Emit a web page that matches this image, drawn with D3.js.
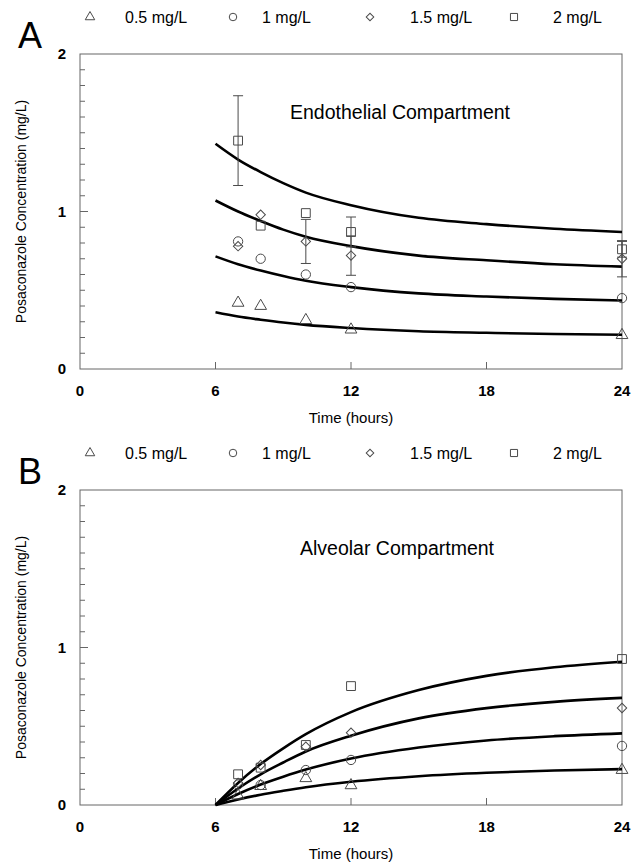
<!DOCTYPE html>
<html>
<head>
<meta charset="utf-8">
<script src="https://cdn.jsdelivr.net/npm/d3@7"></script>
<style>
  body { margin: 0; background: #fff; }
  svg { display: block; font-family: "Liberation Sans", Arial, sans-serif; }
</style>
</head>
<body>
<div id="chart"></div>
<script>
// doses shown in the legend
var doseLabels = ["0.5 mg/L", "1 mg/L", "1.5 mg/L", "2 mg/L"];
var symbolNames = ["triangle", "circle", "diamond", "square"];

// observed sampling times (hours)
var obsTimes = [7, 8, 10, 12, 24];

// A: endothelial compartment, observed
var endo05 = [0.42, 0.40, 0.31, 0.25, 0.215];
var endo1 = [0.81, 0.70, 0.60, 0.52, 0.45];
var endo15 = [0.78, 0.98, 0.81, 0.72, 0.70];
var endo2 = [1.45, 0.91, 0.99, 0.87, 0.76];
// error bars (sd), 0 = none
var endoErr15 = [0, 0, 0.14, 0.125, 0.115];
var endoErr2 = [0.285, 0, 0, 0.095, 0.05];

// model fit times
var fitTimes = [6, 7, 8, 9, 10, 12, 15, 18, 21, 24];
var endoFit05 = [0.36, 0.333, 0.313, 0.295, 0.28, 0.26, 0.24, 0.23, 0.222, 0.217];
var endoFit1 = [0.715, 0.665, 0.625, 0.59, 0.56, 0.52, 0.48, 0.46, 0.445, 0.435];
var endoFit15 = [1.07, 1.0, 0.94, 0.885, 0.84, 0.78, 0.72, 0.69, 0.665, 0.65];
var endoFit2 = [1.43, 1.33, 1.25, 1.18, 1.12, 1.04, 0.96, 0.92, 0.89, 0.87];

// B: alveolar compartment, observed
var alv05 = [0.06, 0.12, 0.17, 0.125, 0.222];
var alv1 = [0.13, 0.127, 0.222, 0.286, 0.375];
var alv15 = [0.14, 0.254, 0.37, 0.459, 0.616];
var alv2 = [0.195, 0.237, 0.381, 0.755, 0.927];

var alvFit05 = [0, 0.035, 0.065, 0.09, 0.113, 0.148, 0.183, 0.205, 0.219, 0.228];
var alvFit1 = [0, 0.07, 0.13, 0.18, 0.225, 0.295, 0.365, 0.41, 0.437, 0.455];
var alvFit15 = [0, 0.105, 0.195, 0.27, 0.34, 0.44, 0.55, 0.615, 0.655, 0.68];
var alvFit2 = [0, 0.14, 0.26, 0.36, 0.45, 0.59, 0.73, 0.82, 0.875, 0.91];

var xTicks = [0, 6, 12, 18, 24];
var yTicks = [0, 1, 2];

var W = 640, H = 863;
var svg = d3.select("#chart").append("svg")
  .attr("width", W)
  .attr("height", H);

var markColor = "#4a4a4a";
var axisColor = "#666";

var symbolTypes = {
  triangle: d3.symbolTriangle,
  circle: d3.symbolCircle,
  diamond: d3.symbolSquare,
  square: d3.symbolSquare
};

function drawSymbol(g, name, cx, cy, scale) {
  var sizes = { triangle: 60, circle: 68, diamond: 44, square: 78 };
  g.append("path")
    .attr("d", d3.symbol().type(symbolTypes[name]).size(sizes[name] * scale)())
    .attr("transform", "translate(" + cx + "," + cy + ")" + (name == "diamond" ? " rotate(45)" : ""))
    .attr("fill", "none")
    .attr("stroke", markColor)
    .attr("stroke-width", 1);
}

function drawPanel(p) {
  var left = 80, right = 622, top = p.top, bottom = p.top + 315;

  var x = d3.scaleLinear().domain([0, 24]).range([left, right]);
  var y = d3.scaleLinear().domain([0, 2]).range([bottom, top]);

  var g = svg.append("g");

  // panel letter
  g.append("text")
    .attr("x", 18).attr("y", top - 6)
    .attr("font-size", 36)
    .text(p.letter);

  // legend
  var legSym = [90, 233, 370, 514], legTxt = [125, 262, 410, 553];
  doseLabels.forEach(function(lab, i) {
    drawSymbol(g, symbolNames[i], legSym[i], top - 37, 0.65);
    g.append("text")
      .attr("x", legTxt[i]).attr("y", top - 37)
      .attr("dy", "0.35em")
      .attr("font-size", 16)
      .text(lab);
  });

  // frame
  g.append("rect")
    .attr("x", left).attr("y", top)
    .attr("width", right - left).attr("height", bottom - top)
    .attr("fill", "none")
    .attr("stroke", axisColor)
    .attr("stroke-width", 1);

  // y ticks (minor every 0.1, inward)
  var minor = d3.range(1, 20).map(function(v) { return v / 10; });
  g.selectAll(".ytick").data(minor).enter().append("line")
    .attr("x1", left).attr("x2", function(d) { return Math.abs(d - 1) < 1e-6 ? left + 8 : left + 5; })
    .attr("y1", function(d) { return y(d); }).attr("y2", function(d) { return y(d); })
    .attr("stroke", axisColor);

  g.selectAll(".ylab").data(yTicks).enter().append("text")
    .attr("x", 66).attr("y", function(d) { return y(d); })
    .attr("dy", "0.35em")
    .attr("text-anchor", "end")
    .attr("font-size", 15).attr("font-weight", "bold")
    .text(function(d) { return d; });

  // x ticks (inward)
  g.selectAll(".xtick").data([6, 12, 18]).enter().append("line")
    .attr("x1", function(d) { return x(d); }).attr("x2", function(d) { return x(d); })
    .attr("y1", bottom).attr("y2", bottom - 7)
    .attr("stroke", axisColor);

  g.selectAll(".xlab").data(xTicks).enter().append("text")
    .attr("x", function(d) { return x(d); }).attr("y", bottom + 22)
    .attr("dy", "0.35em")
    .attr("text-anchor", "middle")
    .attr("font-size", 15).attr("font-weight", "bold")
    .text(function(d) { return d; });

  g.append("text")
    .attr("x", (left + right) / 2).attr("y", bottom + 49)
    .attr("dy", "0.35em")
    .attr("text-anchor", "middle")
    .attr("font-size", 15)
    .text("Time (hours)");

  g.append("text")
    .attr("transform", "translate(21," + ((top + bottom) / 2) + ") rotate(-90)")
    .attr("text-anchor", "middle")
    .attr("dy", "0.35em")
    .attr("font-size", 14)
    .text("Posaconazole Concentration (mg/L)");

  // title
  g.append("text")
    .attr("x", p.titleX).attr("y", y(p.titleY))
    .attr("dy", "0.35em")
    .attr("font-size", 19.5)
    .text(p.title);

  // fitted curves
  var line = d3.line()
    .x(function(d) { return x(d[0]); })
    .y(function(d) { return y(d[1]); })
    .curve(d3.curveMonotoneX);
  p.fits.forEach(function(f) {
    g.append("path")
      .attr("d", line(d3.zip(fitTimes, f)))
      .attr("fill", "none")
      .attr("stroke", "#000")
      .attr("stroke-width", 2.6);
  });

  // error bars
  p.errs.forEach(function(e) {
    if (!e) return;
    var vals = p.obs[e.series];
    e.sd.forEach(function(sd, i) {
      if (!sd) return;
      var cx = x(obsTimes[i]);
      var y1 = y(vals[i] + sd), y2 = y(vals[i] - sd);
      g.append("line").attr("x1", cx).attr("x2", cx).attr("y1", y1).attr("y2", y2)
        .attr("stroke", markColor);
      [y1, y2].forEach(function(yy) {
        g.append("line").attr("x1", cx - 5).attr("x2", cx + 5).attr("y1", yy).attr("y2", yy)
          .attr("stroke", markColor);
      });
    });
  });

  // observations
  p.obs.forEach(function(vals, s) {
    vals.forEach(function(v, i) {
      drawSymbol(g, symbolNames[s], x(obsTimes[i]), y(v), 1);
    });
  });
}

drawPanel({
  top: 54, letter: "A",
  title: "Endothelial Compartment", titleX: 290, titleY: 1.63,
  obs: [endo05, endo1, endo15, endo2],
  errs: [null, null, { series: 2, sd: endoErr15 }, { series: 3, sd: endoErr2 }],
  fits: [endoFit05, endoFit1, endoFit15, endoFit2]
});

drawPanel({
  top: 490, letter: "B",
  title: "Alveolar Compartment", titleX: 300, titleY: 1.63,
  obs: [alv05, alv1, alv15, alv2],
  errs: [],
  fits: [alvFit05, alvFit1, alvFit15, alvFit2]
});
</script>
</body>
</html>
